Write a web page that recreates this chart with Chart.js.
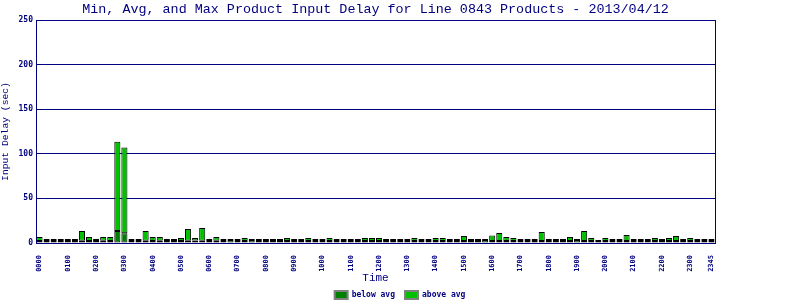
<!DOCTYPE html>
<html><head><meta charset="utf-8">
<script src="https://cdn.jsdelivr.net/npm/chart.js@4.4.0/dist/chart.umd.min.js"></script>
<style>html,body{margin:0;padding:0;background:#fff}</style>
</head><body>
<canvas id="c" width="800" height="300"></canvas>
<script>
const titleText = "Min, Avg, and Max Product Input Delay for Line 0843 Products - 2013/04/12";
const xTitle = "Time";
const yTitle = "Input Delay (sec)";
const seriesNames = ["below avg", "above avg"];
const times = [
 "0000","0015","0030","0045","0100","0115","0130","0145","0200","0215","0230","0245",
 "0300","0315","0330","0345","0400","0415","0430","0445","0500","0515","0530","0545",
 "0600","0615","0630","0645","0700","0715","0730","0745","0800","0815","0830","0845",
 "0900","0915","0930","0945","1000","1015","1030","1045","1100","1115","1130","1145",
 "1200","1215","1230","1245","1300","1315","1330","1345","1400","1415","1430","1445",
 "1500","1515","1530","1545","1600","1615","1630","1645","1700","1715","1730","1745",
 "1800","1815","1830","1845","1900","1915","1930","1945","2000","2015","2030","2045",
 "2100","2115","2130","2145","2200","2215","2230","2245","2300","2315","2330","2345"
];
const belowAvg = [
 2.2,2.2,2.2,2.2,2.2,2.2,2.5,2.2,2.2,2.5,2.2,13.5,
 11,2.2,2.2,2.5,2.2,2.5,2.2,2.2,2.2,2.5,2.8,2.5,
 2.2,2.5,2.2,3.4,2.2,2.2,3.4,2.2,2.2,2.2,2.2,2.2,
 2.2,2.2,2.2,2.2,2.2,2.2,2.2,2.2,2.2,2.2,2.2,2.2,
 2.2,2.2,2.2,2.2,2.2,2.2,2.2,2.2,2.2,2.2,2.2,2.2,
 2.2,2.2,2.2,3.4,2.2,2.2,2.2,2.2,2.2,2.2,2.2,2.2,
 2.2,2.2,2.2,2.2,3.4,2.2,2.2,2.2,2.2,2.2,2.2,2.2,
 2.2,2.2,2.2,2.2,2.2,2.2,2.2,2.2,2.2,2.2,2.2,2.2
];
const aboveAvg = [
 4.6,2.3,2.3,2.3,2.3,2.3,11,4.6,2.3,4.3,4.6,100,
 96,2.3,2.3,11,4.6,4.3,2.3,2.3,3.4,13.3,2.8,14.4,
 2.3,4.3,2.3,1.1,2.3,3.4,1.1,2.3,2.3,2.3,2.3,3.4,
 2.3,2.3,3.4,2.3,2.3,3.4,2.3,2.3,2.3,2.3,3.4,3.4,
 3.4,2.3,2.3,2.3,2.3,3.4,2.3,2.3,3.4,3.4,2.3,2.3,
 5.7,2.3,2.3,1.1,6.3,9.1,4.6,3.4,2.3,2.3,2.3,10.2,
 2.3,2.3,2.3,4.6,1.1,11.3,3.4,1.2,3.4,2.3,2.3,6.8,
 2.3,2.3,2.3,3.4,2.3,3.4,5.7,2.3,3.4,2.3,2.3,2.3
];
const yMin = 0, yMax = 250, yStep = 50;

const NAVY = '#000080';
const tickFont = {family: 'DejaVu Sans Mono', size: 8, weight: 'bold'};
const xTickFont = {family: 'DejaVu Sans Mono', size: 7, weight: 'bold'};

const titlePlugin = {
  id: 'topTitle',
  afterDraw(chart) {
    const ca = chart.chartArea, ctx = chart.ctx;
    ctx.save();
    ctx.font = '13.4px "Liberation Mono"';
    ctx.fillStyle = NAVY;
    ctx.textAlign = 'center';
    ctx.textBaseline = 'middle';
    ctx.fillText(titleText, (ca.left + ca.right) / 2, 9);
    ctx.restore();
  }
};

new Chart(document.getElementById('c'), {
  type: 'bar',
  data: {
    labels: times,
    datasets: [
      {label: seriesNames[0], data: belowAvg, backgroundColor: '#008000', borderColor: '#000000', borderWidth: 1, borderSkipped: false, barPercentage: 0.86, categoryPercentage: 1},
      {label: seriesNames[1], data: aboveAvg, backgroundColor: '#00c000', borderColor: '#000000', borderWidth: 1, borderSkipped: false, barPercentage: 0.86, categoryPercentage: 1}
    ]
  },
  options: {
    responsive: false,
    animation: false,
    devicePixelRatio: 1,
    layout: {padding: {top: 20, left: 0, right: 0, bottom: -9}},
    plugins: {
      title: {display: false},
      tooltip: {enabled: false},
      legend: {
        position: 'bottom',
        labels: {
          boxWidth: 13, boxHeight: 8, padding: 10, color: NAVY, font: tickFont,
          generateLabels(chart) {
            return Chart.defaults.plugins.legend.labels.generateLabels(chart).map(l => Object.assign(l, {strokeStyle: '#808080', lineWidth: 2}));
          }
        }
      }
    },
    scales: {
      x: {
        stacked: true,
        grid: {display: false},
        border: {display: true, color: NAVY, width: 1},
        ticks: {
          autoSkip: false, maxRotation: 90, minRotation: 90, padding: 4, color: NAVY, font: xTickFont,
          callback: (v, i) => (i % 4 === 0 || i === times.length - 1) ? times[i] : ''
        },
        title: {display: true, text: xTitle, color: NAVY, font: {family: 'Liberation Mono', size: 11}, padding: {top: 0, bottom: -4}},
        afterFit: s => { s.height = 38; }
      },
      y: {
        stacked: true,
        min: yMin, max: yMax,
        ticks: {stepSize: yStep, color: NAVY, font: tickFont, padding: 3},
        grid: {color: NAVY, lineWidth: 1, drawTicks: false},
        border: {display: true, color: NAVY, width: 1},
        title: {display: true, text: yTitle, color: NAVY, font: {family: 'Liberation Mono', size: 9.7}, padding: {top: 0, bottom: 2}},
        afterFit: s => { s.width = 36; }
      },
      y2: {
        position: 'right',
        min: yMin, max: yMax,
        grid: {display: false},
        ticks: {display: false},
        border: {display: true, color: NAVY, width: 1},
        afterFit: s => { s.width = 85; }
      }
    }
  },
  plugins: [titlePlugin]
});
</script>
</body></html>
